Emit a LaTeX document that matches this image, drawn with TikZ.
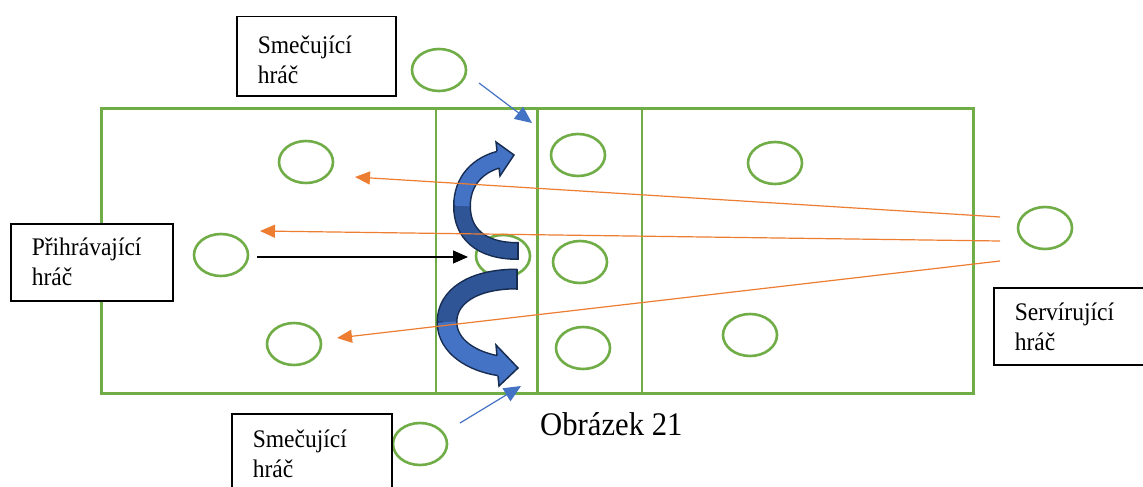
\documentclass[tikz,border=0pt]{standalone}
\usepackage{fontspec}
\setmainfont{Liberation Serif}
\newfontfamily\narrowserif{Liberation Serif}[FakeStretch=0.93]
\usetikzlibrary{shapes.geometric,arrows.meta}
\definecolor{grn}{HTML}{70AD47}
\definecolor{org}{HTML}{ED7D31}
\definecolor{bluel}{HTML}{4472C4}
\definecolor{blued}{HTML}{2F5597}
\definecolor{navy}{HTML}{172C51}
\newcommand\twoline[4]{\rule{0pt}{#3pt}#1\\#2\rule[-#4pt]{0pt}{0pt}}
\begin{document}
\begin{tikzpicture}[x=1pt,y=-1pt,
  court/.style={draw=grn,line width=3pt},
  attack/.style={draw=grn,line width=1.5pt},
  plr/.style={ellipse,draw=grn,line width=2.6pt,minimum width=54pt,minimum height=42pt,inner sep=0pt},
  ball/.style={draw=org,line width=1.2pt,-{Triangle[length=15pt,width=13pt]}},
  pass/.style={draw=black,line width=1.2pt,-{Triangle[length=15pt,width=13pt]}},
  hint/.style={draw=bluel,line width=1.2pt,-{Triangle[length=17pt,width=15pt]}},
  box/.style={draw=black,line width=1.5pt,fill=white,anchor=north west,align=left,
    inner xsep=21pt,inner ysep=2pt,font=\narrowserif\fontsize{25.3}{29.5}\selectfont},
  outl/.style={draw=navy,line width=1.5pt,line join=miter},
  caption/.style={anchor=base west,inner sep=0pt,font=\narrowserif\fontsize{33}{38}\selectfont}
]
\useasboundingbox (0,0) rectangle (1143,487);
\clip (0,0) rectangle (1143,487);
\fill[white] (0,0) rectangle (1143,487);

% court
\draw[court] (101,108) rectangle (973,393);
\draw[court] (537,108) -- (537,393);
\draw[attack] (436,108) -- (436,393);
\draw[attack] (642,108) -- (642,393);

% players
\node[plr] (c1) at (439,70) {};
\node[plr] (c2) at (306,162) {};
\node[plr] (c3) at (221,255) {};
\node[plr] (c4) at (294,344) {};
\node[plr] (c5) at (503,256) {};
\node[plr] (c6) at (578,155) {};
\node[plr] (c7) at (580,262) {};
\node[plr] (c8) at (583,348) {};
\node[plr] (c9) at (775,163) {};
\node[plr] (c10) at (750,335) {};
\node[plr] (c11) at (1045,228) {};
\node[plr] (c12) at (420,444) {};

% big curved arrow (top)
\path[draw=navy,line width=18pt] (518,251) .. controls (480,251) and (462,233) .. (462,206) .. controls (462,180) and (479,164) .. (501,159);
\path[draw=blued,line width=15pt] (518,251) .. controls (480,251) and (462,233) .. (462,206);
\path[draw=bluel,line width=15pt] (462,206) .. controls (462,180) and (479,164) .. (501,159);
\draw[outl] (518,242) -- (518,260);
\fill[bluel] (497,151) -- (496,142) -- (514,155) -- (500,176) -- (499,168) -- cycle;
\draw[outl] (497,151) -- (496,142) -- (514,155) -- (500,176) -- (499,168);

% big curved arrow (bottom)
\path[draw=navy,line width=21pt] (517,279) .. controls (472,279) and (447,297) .. (447,322) .. controls (447,347) and (473,362) .. (500,366);
\path[draw=blued,line width=18pt] (517,279) .. controls (472,279) and (447,297) .. (447,322);
\path[draw=bluel,line width=18pt] (447,322) .. controls (447,347) and (473,362) .. (500,366);
\draw[outl] (517,268.5) -- (517,289.5);
\fill[bluel] (497,356) -- (496,345) -- (518,368) -- (499,386) -- (498,376) -- cycle;
\draw[outl] (497,356) -- (496,345) -- (518,368) -- (499,386) -- (498,376);

% serve / ball arrows
\coordinate (s1) at (1000,217);
\coordinate (s2) at (1000,241);
\coordinate (s3) at (1000,261);
\coordinate (t1) at (355,177);
\coordinate (t2) at (260,231);
\coordinate (t3) at (337,338);
\draw[ball] (s1) -- (t1);
\draw[ball] (s2) -- (t2);
\draw[ball] (s3) -- (t3);

% pass arrow
\coordinate (p0) at (257,257);
\coordinate (p1) at (468,257);
\draw[pass] (p0) -- (p1);

% attacker hints
\coordinate (h1a) at (479,83);
\coordinate (h1b) at (532,123);
\coordinate (h2a) at (460,423);
\coordinate (h2b) at (521,386);
\draw[hint] (h1a) -- (h1b);
\draw[hint] (h2a) -- (h2b);

% boxes
\node[box,minimum width=159pt,minimum height=79pt,text width=117pt] (btop) at (236,16) {\twoline{Smečující}{hráč}{25}{0}};
\node[box,minimum width=162pt,minimum height=77pt,text width=120pt] (bleft) at (10,223) {\twoline{Přihrávající}{hráč}{24}{8}};
\node[box,minimum width=165pt,minimum height=77pt,text width=123pt] (bright) at (993,287) {\twoline{Servírující}{hráč}{24}{6}};
\node[box,minimum width=160pt,minimum height=84pt,text width=118pt] (bbot) at (231,413) {\twoline{Smečující}{hráč}{24}{11}};

\node[caption] (cap) at (540,435) {Obrázek 21};
\end{tikzpicture}
\end{document}
